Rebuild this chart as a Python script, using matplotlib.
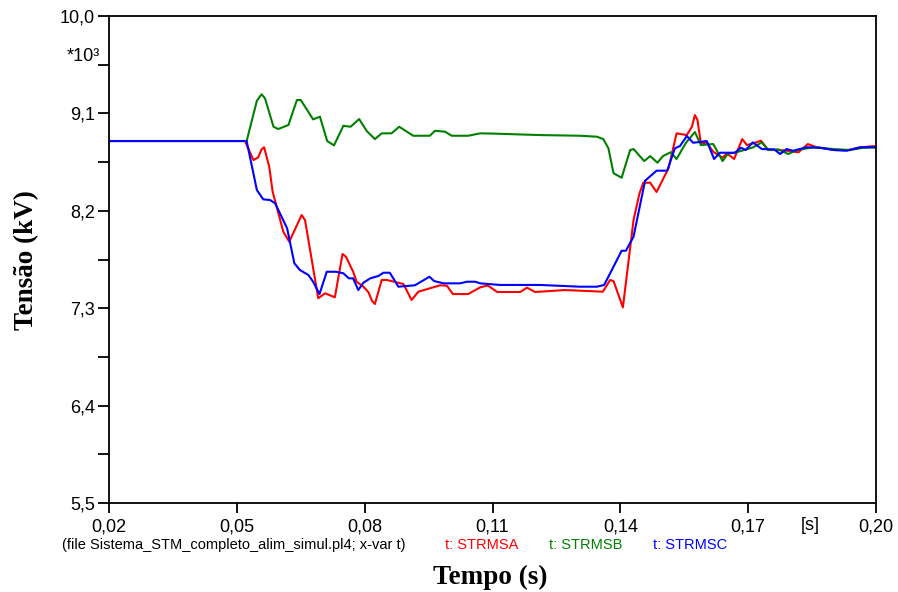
import numpy as np
import matplotlib.pyplot as plt

# data (t in s, V in kV)
tA = [0.02, 0.0519, 0.0539, 0.0550, 0.0558, 0.0564, 0.0576, 0.0584, 0.0609, 0.0623, 0.0652, 0.0660,
      0.0691, 0.0707, 0.0730, 0.0748, 0.0756, 0.0773, 0.0781, 0.0797, 0.0809, 0.0817, 0.0824, 0.0840,
      0.0852, 0.0891, 0.0910, 0.0926, 0.0953, 0.0977, 0.0993, 0.1007, 0.1043, 0.1071, 0.1089, 0.1111,
      0.1165, 0.1181, 0.1200, 0.1270, 0.1305, 0.1359, 0.1376, 0.1384, 0.1406, 0.1431, 0.1445, 0.1454,
      0.1470, 0.1485, 0.1513, 0.1532, 0.1556, 0.1568, 0.1575, 0.1581, 0.1589, 0.1603, 0.1618, 0.1640,
      0.1650, 0.1667, 0.1686, 0.1697, 0.1712, 0.1730, 0.1747, 0.1775, 0.1790, 0.1818, 0.1840, 0.1861,
      0.1904, 0.1935, 0.1963, 0.20]
vA = [8.845, 8.845, 8.669, 8.694, 8.768, 8.787, 8.608, 8.377, 8.007, 7.915, 8.161, 8.115,
      7.392, 7.438, 7.401, 7.801, 7.776, 7.637, 7.545, 7.499, 7.447, 7.369, 7.339, 7.561,
      7.561, 7.524, 7.376, 7.453, 7.484, 7.512, 7.508, 7.431, 7.431, 7.493, 7.510, 7.450,
      7.450, 7.490, 7.450, 7.468, 7.462, 7.453, 7.561, 7.551, 7.308, 8.115, 8.362, 8.460,
      8.460, 8.374, 8.593, 8.916, 8.900, 8.977, 9.085, 9.039, 8.824, 8.829, 8.746, 8.691,
      8.731, 8.679, 8.863, 8.808, 8.824, 8.848, 8.762, 8.762, 8.755, 8.741, 8.817, 8.787,
      8.762, 8.762, 8.787, 8.799]

tB = [0.02, 0.0523, 0.0547, 0.0558, 0.0566, 0.0586, 0.0597, 0.0621, 0.0641, 0.0650, 0.0679, 0.0695,
      0.0712, 0.0728, 0.0750, 0.0767, 0.0787, 0.0805, 0.0824, 0.0840, 0.0863, 0.0881, 0.0914, 0.0953,
      0.0965, 0.0989, 0.1004, 0.1043, 0.1071, 0.1100, 0.1212, 0.1305, 0.1345, 0.1360, 0.1372, 0.1384,
      0.1403, 0.1423, 0.1431, 0.1456, 0.1470, 0.1487, 0.1500, 0.1518, 0.1532, 0.1554, 0.1575, 0.1589,
      0.1618, 0.1640, 0.1653, 0.1669, 0.1712, 0.1732, 0.1747, 0.1771, 0.1794, 0.1814, 0.1853, 0.1900,
      0.1939, 0.1970, 0.20]
vB = [8.845, 8.845, 9.217, 9.277, 9.240, 8.977, 8.956, 8.993, 9.224, 9.224, 9.045, 9.070,
      8.845, 8.805, 8.986, 8.977, 9.048, 8.937, 8.863, 8.916, 8.916, 8.977, 8.894, 8.894,
      8.940, 8.931, 8.894, 8.894, 8.916, 8.914, 8.900, 8.894, 8.885, 8.863, 8.778, 8.547,
      8.506, 8.762, 8.771, 8.660, 8.706, 8.645, 8.706, 8.741, 8.679, 8.829, 8.928, 8.808,
      8.817, 8.660, 8.731, 8.737, 8.787, 8.833, 8.762, 8.768, 8.725, 8.762, 8.787, 8.771,
      8.762, 8.783, 8.787]

tC = [0.02, 0.0523, 0.0547, 0.0562, 0.0578, 0.0590, 0.0618, 0.0635, 0.0648, 0.0668, 0.0679, 0.0694,
      0.0711, 0.0733, 0.0750, 0.0763, 0.0773, 0.0785, 0.0797, 0.0813, 0.0832, 0.0844, 0.0859, 0.0879,
      0.0918, 0.0952, 0.0963, 0.0985, 0.1024, 0.1040, 0.1059, 0.1071, 0.1118, 0.1212, 0.1305, 0.1345,
      0.1362, 0.1380, 0.1403, 0.1413, 0.1431, 0.1458, 0.1485, 0.1510, 0.1528, 0.1540, 0.1556, 0.1571,
      0.1603, 0.1620, 0.1634, 0.1669, 0.1683, 0.1694, 0.1711, 0.1732, 0.1761, 0.1775, 0.1790, 0.1806,
      0.1837, 0.1869, 0.1900, 0.1931, 0.1963, 0.20]
vC = [8.845, 8.845, 8.392, 8.306, 8.300, 8.269, 8.038, 7.715, 7.653, 7.607, 7.545, 7.431,
      7.637, 7.637, 7.623, 7.576, 7.576, 7.468, 7.536, 7.576, 7.598, 7.628, 7.628, 7.499,
      7.512, 7.591, 7.551, 7.530, 7.530, 7.545, 7.545, 7.530, 7.515, 7.515, 7.499, 7.499,
      7.515, 7.653, 7.831, 7.831, 7.961, 8.478, 8.571, 8.571, 8.778, 8.799, 8.891, 8.829,
      8.845, 8.679, 8.737, 8.737, 8.783, 8.762, 8.833, 8.771, 8.768, 8.725, 8.771, 8.755,
      8.787, 8.783, 8.762, 8.755, 8.787, 8.787]

xticks = [0.02, 0.05, 0.08, 0.11, 0.14, 0.17, 0.20]
yticks = [5.5, 6.4, 7.3, 8.2, 9.1, 10.0]
yminor = [5.95, 6.85, 7.75, 8.65, 9.55]
y_mult = 9.55

fig = plt.figure(figsize=(8.98, 5.92), dpi=100)
ax = fig.add_axes([0.1214, 0.1503, 0.8541, 0.8226])

ax.plot(tA, vA, color='#ff0000', lw=1.5)
ax.plot(tB, vB, color='#008000', lw=1.5)
ax.plot(tC, vC, color='#0000ff', lw=1.5)

ax.set_xlim(0.02, 0.20)
ax.set_ylim(5.5, 10.0)
ax.set_xticks(xticks)
ax.set_xticklabels([f"{v:.2f}".replace('.', ',') for v in xticks])
ax.set_yticks(yticks)
ax.set_yticklabels([f"{v:.1f}".replace('.', ',') for v in yticks])
ax.set_yticks(yminor, minor=True)
for s in ax.spines.values():
    s.set_linewidth(1.3)
ax.tick_params(axis='y', which='both', length=8, width=1.3, labelsize=13, pad=2)
ax.tick_params(axis='x', length=7, width=1.3, labelsize=13, pad=4)
for lab in ax.get_xticklabels() + ax.get_yticklabels():
    lab.set_family('Liberation Sans')

ax.text(-0.012, y_mult, '*10³', transform=ax.get_yaxis_transform(), ha='right', va='bottom',
        fontsize=13, family='Liberation Sans')
ax.text(0.1845, -0.029, '[s]', transform=ax.get_xaxis_transform(), ha='center', va='top',
        fontsize=13, family='Liberation Sans')

fig.text(0.069, 0.080, '(file Sistema_STM_completo_alim_simul.pl4; x-var t)', fontsize=10.5,
         family='Liberation Sans', va='center')
fig.text(0.496, 0.080, 't: STRMSA', color='#ff0000', fontsize=10.5, family='Liberation Sans', va='center')
fig.text(0.611, 0.080, 't: STRMSB', color='#008000', fontsize=10.5, family='Liberation Sans', va='center')
fig.text(0.727, 0.080, 't: STRMSC', color='#0000ff', fontsize=10.5, family='Liberation Sans', va='center')

fig.text(0.546, 0.025, 'Tempo (s)', fontsize=19.5, fontweight='bold', family='Liberation Serif',
         ha='center', va='center')
fig.text(0.030, 0.56, 'Tensão (kV)', fontsize=19.5, fontweight='bold', family='Liberation Serif',
         ha='center', va='center', rotation=90)

fig.savefig('out.png', dpi=100)
